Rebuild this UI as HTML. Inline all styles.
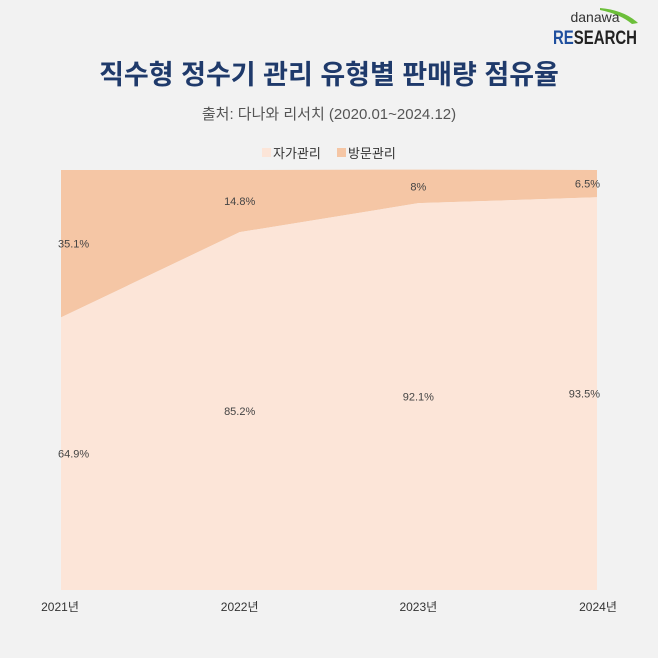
<!DOCTYPE html>
<html><head><meta charset="utf-8"><style>
body{margin:0;background:#f2f2f2;}
svg{display:block;font-family:"Liberation Sans","Noto Sans CJK KR",sans-serif;}
</style></head><body>
<svg width="658" height="658" viewBox="0 0 658 658">
<rect width="658" height="658" fill="#f2f2f2"/>
<g>
<path d="M600 8 Q624 10 638 23 L632 24 Q620 14 600 10 Z" fill="#6cbf3a"/>
<text x="595" y="22" text-anchor="middle" font-size="14" fill="#333">danawa</text>
<text x="553" y="44" font-size="19" font-weight="bold" fill="#1f4f9e" textLength="84" lengthAdjust="spacingAndGlyphs">RE<tspan fill="#222">SEARCH</tspan></text>
</g>
<text x="329" y="84" text-anchor="middle" font-size="27" font-weight="bold" fill="#1f3a6b">직수형 정수기 관리 유형별 판매량 점유율</text>
<text x="329" y="119" text-anchor="middle" font-size="15" fill="#555">출처: 다나와 리서치 (2020.01~2024.12)</text>
<g>
<rect x="262" y="148" width="9" height="9" fill="#fce5d8"/>
<text x="273" y="158" font-size="13" fill="#333">자가관리</text>
<rect x="337" y="148" width="9" height="9" fill="#f5c6a5"/>
<text x="348" y="158" font-size="13" fill="#333">방문관리</text>
</g>
<g id="plot"></g>
<g id="xaxis"></g>
</svg>
<script>
const categories=["2021년","2022년","2023년","2024년"];
const selfVals=[64.9,85.2,92.1,93.5];
const visitVals=[35.1,14.8,8,6.5];
const visitLabels=["35.1%","14.8%","8%","6.5%"];
const selfLabels=["64.9%","85.2%","92.1%","93.5%"];
const X0=61,X1=597,Y0=590,Y1=170;
const NS="http://www.w3.org/2000/svg";
const xs=i=>X0+(X1-X0)*i/(categories.length-1);
const ys=v=>Y0-(Y0-Y1)*v/100;
const plot=document.getElementById('plot'),xa=document.getElementById('xaxis');
function mk(t,a,p){const e=document.createElementNS(NS,t);for(const k in a)e.setAttribute(k,a[k]);p.appendChild(e);return e;}
const topPts=[],midPts=[];
categories.forEach((c,i)=>{topPts.push([xs(i),ys(selfVals[i]+visitVals[i])]);midPts.push([xs(i),ys(selfVals[i])]);});
const pv=mk('path',{d:'M'+topPts.map(p=>p.join(',')).join('L')+'L'+midPts.slice().reverse().map(p=>p.join(',')).join('L')+'Z',fill:'#f5c6a5'},plot);


const ps=mk('path',{d:'M'+midPts.map(p=>p.join(',')).join('L')+`L${X1},${Y0}L${X0},${Y0}Z`,fill:'#fce5d8'},plot);


categories.forEach((c,i)=>{
  const n=categories.length-1;
  const anc=i==0?'start':(i==n?'end':'middle');
  const lx=i==0?xs(i)-3:(i==n?xs(i)+3:xs(i));
  const t1=mk('text',{x:lx,y:(ys(selfVals[i]+visitVals[i])+ys(selfVals[i]))/2+4,'text-anchor':anc,'font-size':11,fill:'#444'},plot);
  t1.textContent=visitLabels[i];
  
  
  const t2=mk('text',{x:lx,y:(ys(selfVals[i])+Y0)/2+4,'text-anchor':anc,'font-size':11,fill:'#444'},plot);
  t2.textContent=selfLabels[i];
  
  
  const tx=mk('text',{x:xs(i)+(i==0?-1:(i==n?1:0)),y:611,'text-anchor':'middle','font-size':12,fill:'#333'},xa);
  tx.textContent=c;
  
  
});
</script>
</body></html>
